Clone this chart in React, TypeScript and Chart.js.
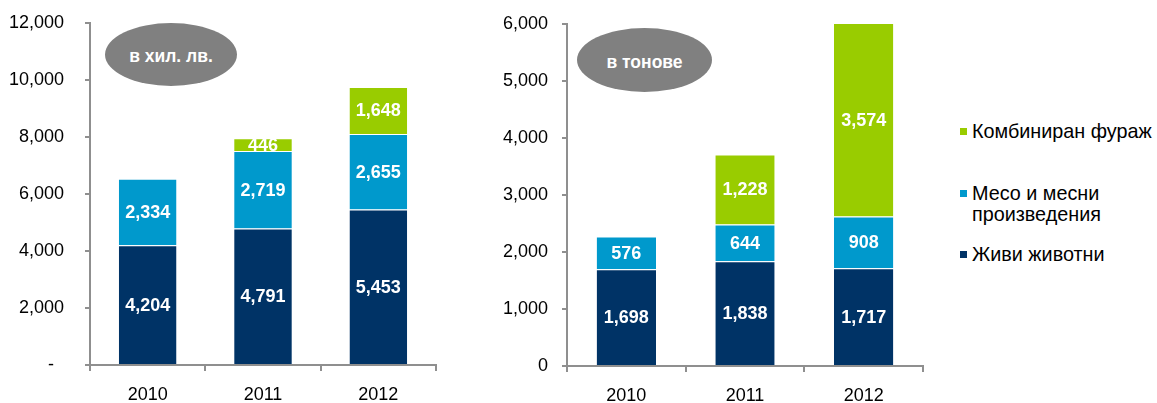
import React, { useEffect, useRef } from 'react';
import { Chart, registerables } from 'chart.js';

Chart.register(...registerables);

const FONT = '"Liberation Sans", Arial, Helvetica, sans-serif';

const years = ['2010', '2011', '2012'];
const seriesNames = ['Живи животни', 'Месо и месни произведения', 'Комбиниран фураж'];
const seriesColors = ['#003366', '#0099CC', '#99CC00'];

// Left chart: в хил. лв.
const levaLive = [4204, 4791, 5453];
const levaMeat = [2334, 2719, 2655];
const levaFeed = [null, 446, 1648];
const levaMax = 12000;
const levaStep = 2000;

// Right chart: в тонове
const tonLive = [1698, 1838, 1717];
const tonMeat = [576, 644, 908];
const tonFeed = [null, 1228, 3574];
const tonMax = 6000;
const tonStep = 1000;

const fmt = (v: number) => {
  const s = Math.round(v).toString();
  return s.replace(/\B(?=(\d{3})+(?!\d))/g, ',');
};

const segLabels = {
  id: 'segLabels',
  afterDatasetsDraw(chart: any) {
    const ctx = chart.ctx;
    const area = chart.chartArea;
    ctx.save();
    ctx.font = 'bold 18px ' + FONT;
    ctx.fillStyle = '#ffffff';
    ctx.textAlign = 'center';
    ctx.textBaseline = 'middle';
    chart.data.datasets.forEach((ds: any, i: number) => {
      const meta = chart.getDatasetMeta(i);
      meta.data.forEach((el: any, j: number) => {
        const v = ds.data[j];
        if (v == null) return;
        const top = Math.max(Math.min(el.y, el.base), area.top);
        const bottom = Math.min(Math.max(el.y, el.base), area.bottom);
        ctx.fillText(fmt(v), el.x, (top + bottom) / 2 + 1);
      });
    });
    ctx.restore();
  },
};

type Props = {
  left: number;
  width: number;
  yAxisW: number;
  xAxisH: number;
  padTop: number;
  padRight: number;
  labelPad: number;
  max: number;
  step: number;
  zeroLabel: string;
  live: (number | null)[];
  meat: (number | null)[];
  feed: (number | null)[];
};

function StackChart(p: Props) {
  const ref = useRef<HTMLCanvasElement>(null);
  useEffect(() => {
    if (!ref.current) return;
    const axisColor = '#8f8f8f';
    const mk = (label: string, data: (number | null)[], color: string) => ({
      label,
      data,
      backgroundColor: color,
      borderColor: '#ffffff',
      borderWidth: { top: 1, bottom: 0, left: 0, right: 0 },
      borderSkipped: false,
      barPercentage: 0.5,
      categoryPercentage: 1,
    });
    const chart = new Chart(ref.current, {
      type: 'bar',
      data: {
        labels: years,
        datasets: [
          mk(seriesNames[0], p.live, seriesColors[0]),
          mk(seriesNames[1], p.meat, seriesColors[1]),
          mk(seriesNames[2], p.feed, seriesColors[2]),
        ] as any,
      },
      options: {
        responsive: false,
        maintainAspectRatio: false,
        animation: false,
        layout: { padding: { top: p.padTop, right: p.padRight, left: 0, bottom: 0 } },
        plugins: { legend: { display: false }, tooltip: { enabled: false } },
        scales: {
          x: {
            stacked: true,
            grid: {
              display: true,
              drawOnChartArea: false,
              drawTicks: true,
              tickLength: 6,
              color: axisColor,
              lineWidth: 2,
              offset: true,
            },
            border: { color: axisColor, width: 2 },
            ticks: { color: '#000', font: { size: 18, family: FONT }, padding: 13 },
            afterFit: (s: any) => {
              s.height = p.xAxisH;
              s.paddingLeft = 0;
              s.paddingRight = 0;
            },
          },
          y: {
            stacked: true,
            min: 0,
            max: p.max,
            grid: {
              display: true,
              drawOnChartArea: false,
              drawTicks: true,
              tickLength: 5,
              color: axisColor,
              lineWidth: 2,
            },
            border: { color: axisColor, width: 2 },
            ticks: {
              stepSize: p.step,
              color: '#000',
              font: { size: 18, family: FONT },
              padding: p.labelPad,
              callback: (v: any) => (Number(v) === 0 ? p.zeroLabel : fmt(Number(v))),
            },
            afterFit: (s: any) => {
              s.width = p.yAxisW;
              s.paddingTop = 0;
              s.paddingBottom = 0;
            },
          },
        } as any,
      },
      plugins: [segLabels],
    });
    return () => chart.destroy();
  }, []);
  return (
    <canvas
      ref={ref}
      width={p.width}
      height={403}
      style={{ position: 'absolute', left: p.left, top: 0, width: p.width, height: 403 }}
    />
  );
}

const ellipseStyle = (left: number, top: number, w: number, h: number): React.CSSProperties => ({
  position: 'absolute',
  left,
  top,
  width: w,
  height: h,
  borderRadius: '50%',
  background: '#808080',
  color: '#fff',
  fontFamily: FONT,
  fontWeight: 'bold',
  fontSize: 17.5,
  display: 'flex',
  alignItems: 'center',
  justifyContent: 'center',
  paddingTop: 4,
  boxSizing: 'border-box',
});

const legendText: React.CSSProperties = {
  position: 'absolute',
  left: 972,
  fontFamily: FONT,
  fontSize: 19.8,
  lineHeight: '21px',
  color: '#000',
  whiteSpace: 'nowrap',
};

const sq = (top: number, color: string): React.CSSProperties => ({
  position: 'absolute',
  left: 960,
  top,
  width: 7,
  height: 7,
  background: color,
});

export default function App() {
  useEffect(() => {
    document.body.style.margin = '0';
  }, []);
  return (
    <div style={{ position: 'absolute', left: 0, top: 0, width: 1157, height: 403, background: '#fff', overflow: 'hidden' }}>
      <StackChart
        left={0}
        width={445}
        yAxisW={90}
        xAxisH={38}
        padTop={23}
        padRight={9}
        labelPad={21}
        max={levaMax}
        step={levaStep}
        zeroLabel={'-  '}
        live={levaLive}
        meat={levaMeat}
        feed={levaFeed}
      />
      <StackChart
        left={470}
        width={460}
        yAxisW={97}
        xAxisH={37}
        padTop={24}
        padRight={7}
        labelPad={14}
        max={tonMax}
        step={tonStep}
        zeroLabel={'0'}
        live={tonLive}
        meat={tonMeat}
        feed={tonFeed}
      />
      <div style={ellipseStyle(105, 23, 132, 63)}>в хил. лв.</div>
      <div style={ellipseStyle(577, 28, 135, 64)}>в тонове</div>

      <div style={sq(128, seriesColors[2])} />
      <div style={{ ...legendText, top: 121 }}>{seriesNames[2]}</div>
      <div style={sq(190, seriesColors[1])} />
      <div style={{ ...legendText, top: 183 }}>
        Месо и месни
        <br />
        произведения
      </div>
      <div style={sq(251, seriesColors[0])} />
      <div style={{ ...legendText, top: 244 }}>{seriesNames[0]}</div>
    </div>
  );
}
